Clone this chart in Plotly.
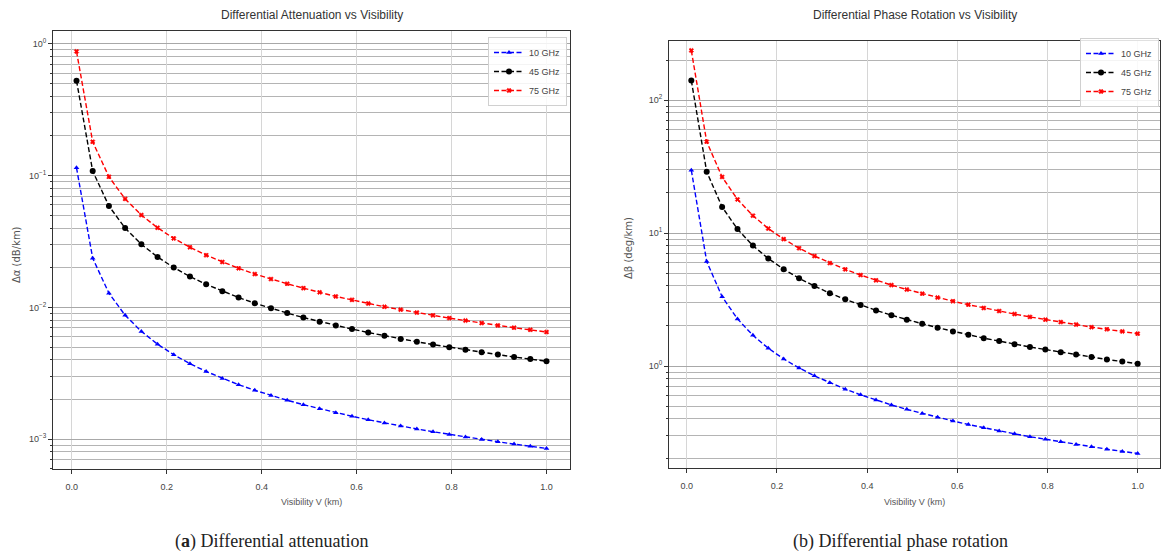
import plotly.graph_objects as go

# ---------------- data ----------------
visibility = [0.01, 0.0441, 0.0783, 0.1124, 0.1466, 0.1807, 0.2148, 0.2490, 0.2831, 0.3172,
              0.3514, 0.3855, 0.4197, 0.4538, 0.4879, 0.5221, 0.5562, 0.5903, 0.6245, 0.6586,
              0.6928, 0.7269, 0.7610, 0.7952, 0.8293, 0.8634, 0.8976, 0.9317, 0.9659, 1.0]

att_10 = [0.1147, 0.02361, 0.01281, 0.008713, 0.006570, 0.005257, 0.004373, 0.003737, 0.003259, 0.002887,
          0.002589, 0.002346, 0.002143, 0.001972, 0.001825, 0.001698, 0.001588, 0.001490, 0.001403, 0.001326,
          0.001256, 0.001194, 0.001137, 0.001085, 0.001038, 0.000994, 0.000954, 0.000916, 0.000882, 0.00085]
att_45 = [0.526, 0.1083, 0.0588, 0.0400, 0.03014, 0.02412, 0.02007, 0.01714, 0.01495, 0.01325,
          0.01188, 0.01076, 0.00983, 0.00905, 0.00837, 0.00779, 0.00729, 0.00684, 0.00644, 0.00608,
          0.00576, 0.00548, 0.00522, 0.00498, 0.00476, 0.00456, 0.00438, 0.00420, 0.00405, 0.0039]
att_75 = [0.877, 0.1806, 0.0980, 0.0666, 0.0502, 0.0402, 0.0334, 0.0286, 0.0249, 0.0221,
          0.0198, 0.0179, 0.0164, 0.0151, 0.0140, 0.0130, 0.0121, 0.0114, 0.0107, 0.0101,
          0.00961, 0.00913, 0.00870, 0.00829, 0.00794, 0.00760, 0.00729, 0.00701, 0.00675, 0.0065]

ph_10 = [29.7, 6.11, 3.32, 2.26, 1.70, 1.36, 1.13, 0.967, 0.843, 0.747,
         0.670, 0.607, 0.555, 0.510, 0.472, 0.440, 0.411, 0.386, 0.363, 0.343,
         0.325, 0.309, 0.294, 0.281, 0.269, 0.257, 0.247, 0.237, 0.228, 0.22]
ph_45 = [140.3, 28.9, 15.7, 10.7, 8.04, 6.43, 5.35, 4.57, 3.99, 3.53,
         3.17, 2.87, 2.62, 2.41, 2.23, 2.08, 1.94, 1.82, 1.72, 1.62,
         1.54, 1.46, 1.39, 1.33, 1.27, 1.22, 1.17, 1.12, 1.08, 1.04]
ph_75 = [236, 48.6, 26.4, 17.9, 13.5, 10.8, 9.00, 7.69, 6.71, 5.94,
         5.33, 4.83, 4.41, 4.06, 3.76, 3.50, 3.27, 3.07, 2.89, 2.73,
         2.59, 2.46, 2.34, 2.23, 2.14, 2.05, 1.96, 1.89, 1.82, 1.75]

series_names = ["10 GHz", "45 GHz", "75 GHz"]

x_tickvals = [0.0, 0.2, 0.4, 0.6, 0.8, 1.0]
x_ticktext = ["0.0", "0.2", "0.4", "0.6", "0.8", "1.0"]

att_tickvals = [1e-3, 1e-2, 1e-1, 1e0]
att_ticktext = ["10<sup>−3</sup>", "10<sup>−2</sup>", "10<sup>−1</sup>", "10<sup>0</sup>"]
ph_tickvals = [1e0, 1e1, 1e2]
ph_ticktext = ["10<sup>0</sup>", "10<sup>1</sup>", "10<sup>2</sup>"]

titles = ["Differential Attenuation vs Visibility", "Differential Phase Rotation vs Visibility"]
x_title = "Visibility V (km)"
y_titles = ["Δα (dB/km)", "Δβ (deg/km)"]
captions = ["(<b>a</b>) Differential attenuation", "(b) Differential phase rotation"]

# ---------------- styling ----------------
W, H = 1167, 560
colors = ["#0000ff", "#000000", "#ff0000"]
symbols = ["triangle-up", "circle", "x"]
msizes = [5, 6, 4]
narrow = "Liberation Sans Narrow, Arial Narrow, sans-serif"


def minor_vals(lo_exp, hi_exp):
    out = []
    for e in range(lo_exp, hi_exp + 1):
        for k in range(2, 10):
            out.append(k * 10 ** e)
    return out


fig = go.Figure()

panels = [
    dict(ys=[att_10, att_45, att_75], xa="x", ya="y", legend="legend"),
    dict(ys=[ph_10, ph_45, ph_75], xa="x2", ya="y2", legend="legend2"),
]
for p in panels:
    for i in range(3):
        fig.add_trace(go.Scatter(
            x=visibility, y=p["ys"][i], name=series_names[i], mode="lines+markers",
            xaxis=p["xa"], yaxis=p["ya"], legend=p["legend"],
            line=dict(color=colors[i], width=1.4, dash="5px,2.5px"),
            marker=dict(color=colors[i], symbol=symbols[i], size=msizes[i],
                        line=dict(width=0.6, color=colors[i]) if symbols[i] == "x" else dict(width=0)),
        ))

# pixel geometry
L1, R1, T1, B1 = 53, 570, 31, 469
L2, R2, T2, B2 = 669, 1160, 41, 468

tickfont = dict(family=narrow, size=9, color="#444")
xcommon = dict(type="linear", range=[-0.0395, 1.0495], tickmode="array",
               tickvals=x_tickvals, ticktext=x_ticktext, showgrid=True,
               gridcolor="#d6d6d6", gridwidth=1, showline=True, linecolor="#333",
               linewidth=1, mirror=True, ticks="outside", ticklen=4, tickcolor="#333",
               tickfont=tickfont, zeroline=False, ticklabelstandoff=5)
ycommon = dict(type="log", tickmode="array", showgrid=True, gridcolor="#a8a8a8",
               gridwidth=1, showline=True, linecolor="#333", linewidth=1, mirror=True,
               ticks="outside", ticklen=4, tickcolor="#333", tickfont=tickfont,
               zeroline=False)

legend_common = dict(xanchor="right", yanchor="top",
                     bgcolor="rgba(255,255,255,0.85)", bordercolor="#d0d0d0", borderwidth=1,
                     font=dict(family=narrow, size=9, color="#444"), itemwidth=30,
                     tracegroupgap=0)

fig.update_layout(
    width=W, height=H,
    margin=dict(l=0, r=0, t=0, b=0),
    paper_bgcolor="white", plot_bgcolor="white",
    xaxis=dict(domain=[L1 / W, R1 / W], anchor="y", **xcommon),
    yaxis=dict(domain=[1 - B1 / H, 1 - T1 / H], anchor="x", range=[-3.227, 0.098],
               tickvals=att_tickvals, ticktext=att_ticktext,
               minor=dict(tickmode="array", tickvals=minor_vals(-4, 0), showgrid=True,
                          gridcolor="#b4b4b4", ticks="outside", ticklen=2, tickcolor="#333"),
               **ycommon),
    xaxis2=dict(domain=[L2 / W, R2 / W], anchor="y2", **xcommon),
    yaxis2=dict(domain=[1 - B2 / H, 1 - T2 / H], anchor="x2", range=[-0.767, 2.444],
                tickvals=ph_tickvals, ticktext=ph_ticktext,
                minor=dict(tickmode="array", tickvals=minor_vals(-1, 2), showgrid=True,
                           gridcolor="#b4b4b4", ticks="outside", ticklen=2, tickcolor="#333"),
                **ycommon),
    legend=dict(x=567 / W, y=1 - 37 / H, **legend_common),
    legend2=dict(x=1159 / W, y=1 - 38 / H, **legend_common),
    showlegend=True,
)

ann = []
centers = [(L1 + R1) / 2, (L2 + R2) / 2]
for j in range(2):
    ann.append(dict(text=titles[j], x=centers[j] / W, y=1 - 15 / H, xref="paper", yref="paper",
                    showarrow=False, xanchor="center", yanchor="middle",
                    font=dict(family=narrow, size=12, color="#333")))
    ann.append(dict(text=x_title, x=centers[j] / W, y=1 - 502 / H, xref="paper", yref="paper",
                    showarrow=False, xanchor="center", yanchor="middle",
                    font=dict(family=narrow, size=9, color="#555")))
ann.append(dict(text=y_titles[0], x=17 / W, y=1 - 255 / H, xref="paper", yref="paper",
                showarrow=False, textangle=-90, xanchor="center", yanchor="middle",
                font=dict(family="DejaVu Sans", size=10, color="#555")))
ann.append(dict(text=y_titles[1], x=628 / W, y=1 - 248 / H, xref="paper", yref="paper",
                showarrow=False, textangle=-90, xanchor="center", yanchor="middle",
                font=dict(family="DejaVu Sans", size=10, color="#555")))
cap_x = [272, 900]
for j in range(2):
    ann.append(dict(text=captions[j], x=cap_x[j] / W, y=1 - 541 / H, xref="paper", yref="paper",
                    showarrow=False, xanchor="center", yanchor="middle",
                    font=dict(family="Liberation Serif", size=18, color="#222")))
fig.update_layout(annotations=ann)

fig.write_html("out.html")
